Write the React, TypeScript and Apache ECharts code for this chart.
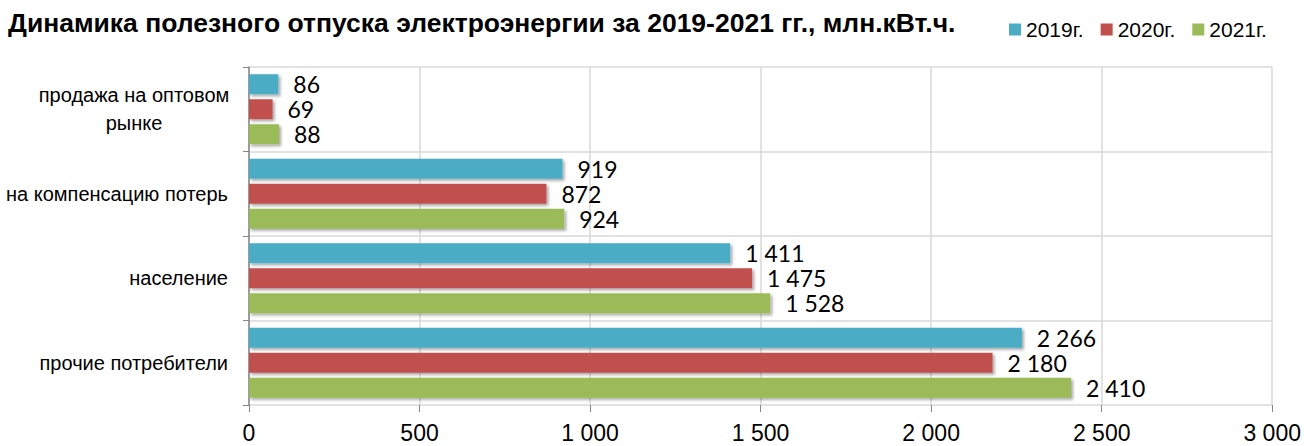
import React, { useEffect, useRef } from "react";
import * as echarts from "echarts";

const categories = ["продажа на оптовом рынке", "на компенсацию потерь", "население", "прочие потребители"];
const seriesNames = ["2019г.", "2020г.", "2021г."];
const values2019 = [86, 919, 1411, 2266];
const values2020 = [69, 872, 1475, 2180];
const values2021 = [88, 924, 1528, 2410];
const colors = ["#4BACC6", "#C0504D", "#9BBB59"];
const xTicks = [0, 500, 1000, 1500, 2000, 2500, 3000];

const sans = '"Liberation Sans", Arial, sans-serif';
const fmt = (v: number) => String(v).replace(/\B(?=(\d{3})+(?!\d))/g, " ");

export default function App() {
  const ref = useRef<HTMLDivElement>(null);
  useEffect(() => {
    const chart = echarts.init(ref.current!, undefined, { renderer: "svg" });
    const data = [values2019, values2020, values2021];
    chart.setOption({
      animation: false,
      title: {
        text: "Динамика полезного отпуска электроэнергии за 2019-2021 гг., млн.кВт.ч.",
        left: 3,
        top: 4,
        textStyle: { fontFamily: sans, fontWeight: "bold", fontSize: 26.5, color: "#000" },
      },
      legend: {
        left: 1004,
        top: 14,
        icon: "rect",
        itemWidth: 12,
        itemHeight: 12,
        itemGap: 17,
        data: seriesNames,
        textStyle: { fontFamily: sans, fontSize: 21, color: "#000" },
      },
      grid: { left: 249, right: 31, top: 67, bottom: 41, containLabel: false },
      xAxis: {
        type: "value",
        min: 0,
        max: 3000,
        interval: 500,
        axisLine: { show: false },
        axisTick: { show: true, length: 7, lineStyle: { color: "#868686" } },
        splitLine: { show: true, lineStyle: { color: "#D9D9D9", width: 1.5 } },
        axisLabel: {
          fontFamily: sans,
          fontSize: 23,
          color: "#000",
          margin: 16,
          formatter: (v: number) => (xTicks.includes(v) ? fmt(v) : ""),
        },
      },
      yAxis: {
        type: "category",
        inverse: true,
        data: categories,
        axisLine: { show: true, lineStyle: { color: "#868686", width: 1.5 } },
        axisTick: { show: true, length: 6, lineStyle: { color: "#868686" } },
        splitLine: { show: true, lineStyle: { color: "#D9D9D9", width: 1.5 } },
        axisLabel: {
          fontFamily: sans,
          fontSize: 20,
          color: "#000",
          margin: 21,
          lineHeight: 28,
          formatter: (v: string) =>
            v === "продажа на оптовом рынке" ? "{c|продажа на оптовом}\n{c|рынке}" : v,
          rich: {
            c: { width: 188, align: "center", fontFamily: sans, fontSize: 20, color: "#000", lineHeight: 28 },
          },
        },
      },
      series: seriesNames.map((name, i) => ({
        name,
        type: "bar",
        data: data[i],
        barWidth: 20,
        barGap: "25%",
        itemStyle: {
          color: colors[i],
          shadowColor: "rgba(0,0,0,0.35)",
          shadowBlur: 3,
          shadowOffsetX: 2,
          shadowOffsetY: 2,
        },
        label: {
          show: true,
          position: "right",
          distance: 15,
          fontFamily: "Lato, sans-serif",
          fontSize: 23,
          color: "#000",
          formatter: (p: any) => fmt(p.value),
        },
      })),
    });
    return () => chart.dispose();
  }, []);
  return (
    <div
      ref={ref}
      style={{ position: "absolute", left: 0, top: 0, width: 1304, height: 446, background: "#fff" }}
    />
  );
}
